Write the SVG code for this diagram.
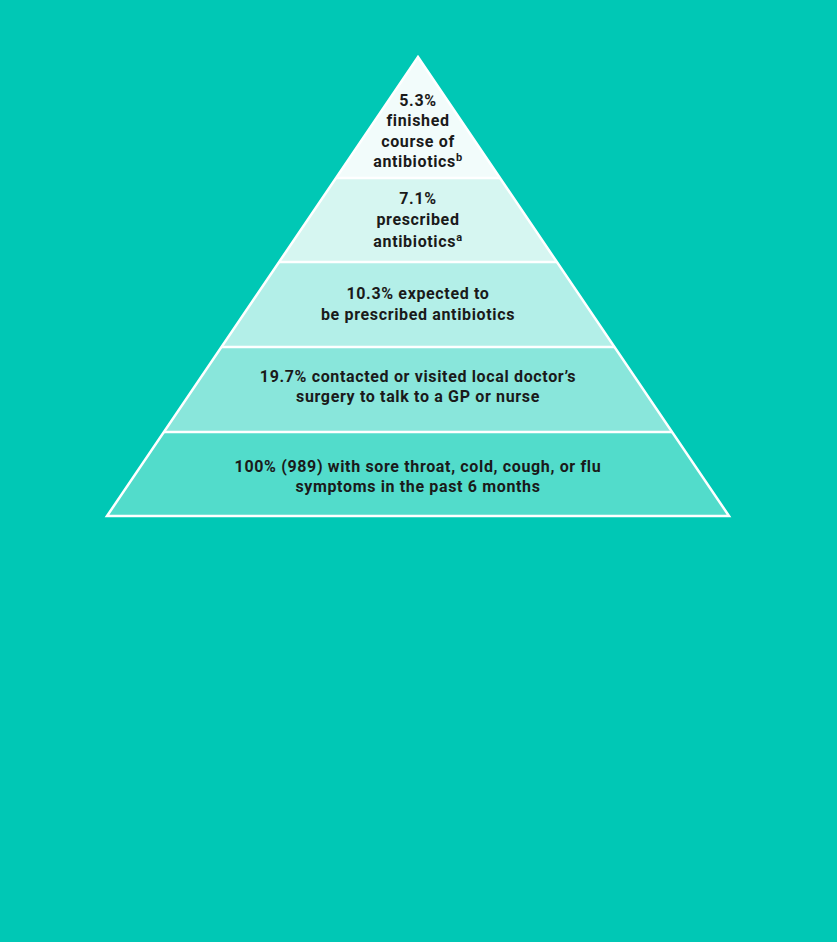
<svg xmlns="http://www.w3.org/2000/svg" width="837" height="942" viewBox="0 0 837 942">
<style>
.t{font-family:Roboto,"Liberation Sans",sans-serif;font-weight:bold;font-size:16px;letter-spacing:0.65px;fill:#1a1a1a;text-anchor:middle}
.s{font-size:11px}
.edge{fill:none;stroke:#ffffff;stroke-width:2.5}
</style>
<rect x="0" y="0" width="837" height="942" fill="#00C8B5"/>
<g id="band5"><polygon points="164,432 672,432 729,516 107,516" fill="#52DCCB"/>
<text class="t" x="418" y="472">100% (989) with sore throat, cold, cough, or flu</text>
<text class="t" x="418" y="492">symptoms in the past 6 months</text></g>
<g id="band4"><polygon points="221.5,347 614.5,347 672,432 164,432" fill="#89E6DB"/>
<text class="t" x="418" y="382">19.7% contacted or visited local doctor’s</text>
<text class="t" x="418" y="402">surgery to talk to a GP or nurse</text></g>
<g id="band3"><polygon points="279,262 557,262 614.5,347 221.5,347" fill="#B3EFE8"/>
<text class="t" x="418" y="299">10.3% expected to</text>
<text class="t" x="418" y="320">be prescribed antibiotics</text></g>
<g id="band2"><polygon points="336,178 500,178 557,262 279,262" fill="#D6F6F1"/>
<text class="t" x="418" y="204">7.1%</text>
<text class="t" x="418" y="225">prescribed</text>
<text class="t" x="418" y="247">antibiotics<tspan class="s" dy="-6">a</tspan></text></g>
<g id="band1"><polygon points="418,57 500,178 336,178" fill="#F2FCFB"/>
<text class="t" x="418" y="106">5.3%</text>
<text class="t" x="418" y="126">finished</text>
<text class="t" x="418" y="147">course of</text>
<text class="t" x="418" y="167">antibiotics<tspan class="s" dy="-6">b</tspan></text></g>
<g id="connectors">
<line class="edge" x1="336" y1="178" x2="500" y2="178"/>
<line class="edge" x1="279" y1="262" x2="557" y2="262"/>
<line class="edge" x1="221.5" y1="347" x2="614.5" y2="347"/>
<line class="edge" x1="164" y1="432" x2="672" y2="432"/>
<polygon class="edge" points="418,57 729,516 107,516"/>
</g>
</svg>
